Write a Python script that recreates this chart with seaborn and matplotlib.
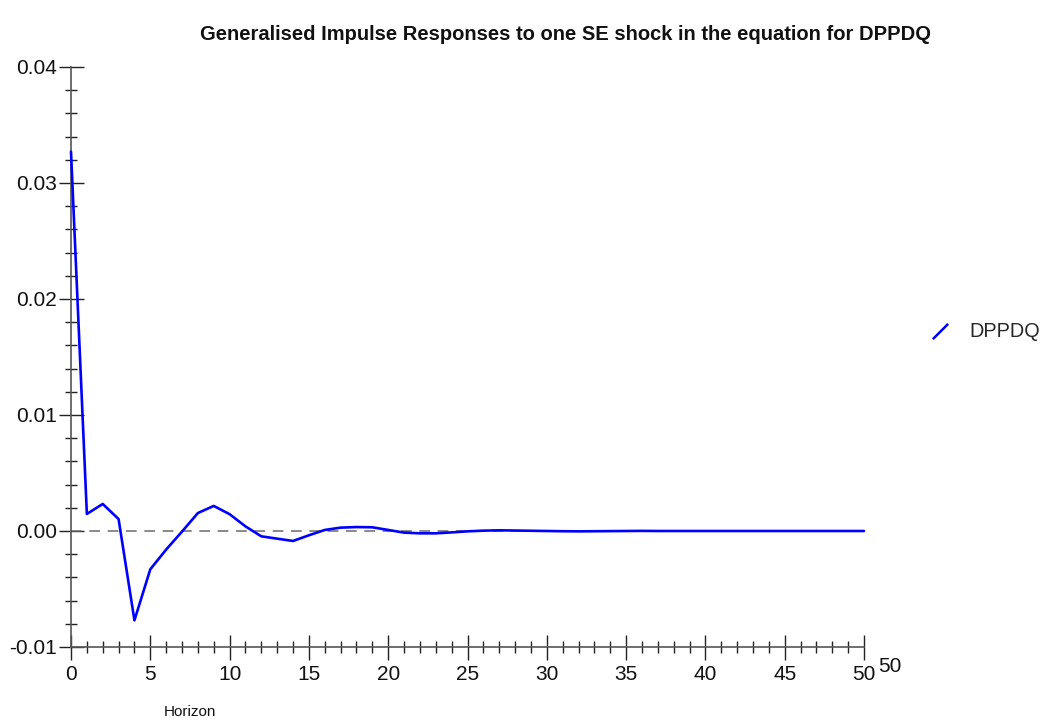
import matplotlib
matplotlib.use("Agg")
import matplotlib.pyplot as plt
import numpy as np
import pandas as pd
import seaborn as sns
from matplotlib.lines import Line2D
from matplotlib.path import Path
from matplotlib.ticker import MultipleLocator, FormatStrFormatter

# Generalised impulse response of DPPDQ, horizons 0..50
horizon = list(range(51))
response = [
    0.0327, 0.00147, 0.00233, 0.00103, -0.0077, -0.0033, -0.0016, -0.00005,
    0.00155, 0.00216, 0.00145, 0.0004, -0.00046, -0.00066, -0.00086, -0.00037,
    0.00009, 0.00029, 0.00034, 0.00032, 0.00009, -0.00014, -0.0002, -0.0002,
    -0.00012, -0.00003, 0.00003, 0.00006, 0.00004, 0.00002, 0.0, -0.00002,
    -0.00003, -0.00002, -0.00001, 0.0, 0.00001, 0.0, 0.0, 0.0, 0.0, 0.0,
    0.0, 0.0, 0.0, 0.0, 0.0, 0.0, 0.0, 0.0, 0.0,
]
series_name = "DPPDQ"
title = "Generalised Impulse Responses to one SE shock in the equation for DPPDQ"
x_label = "Horizon"

df = pd.DataFrame({"Horizon": horizon, "Response": response})

sns.set_theme(style="white")
plt.rcParams["font.family"] = ["Liberation Sans", "DejaVu Sans"]
plt.rcParams["axes.unicode_minus"] = False

fig = plt.figure(figsize=(10.45, 7.27), dpi=100)
ax = fig.add_axes([71 / 1045, 1 - 647 / 727, (864 - 71) / 1045, (647 - 67) / 727])

# zero reference line
ax.axhline(0, color="#6a6a6a", lw=1.1, ls=(0, (7, 5)), zorder=1)

sns.lineplot(data=df, x="Horizon", y="Response", color="#0000ff", lw=1.9,
             ax=ax, legend=False, clip_on=False, zorder=3)

ax.set_xlim(0, 50)
ax.set_ylim(-0.01, 0.04)

for side in ("top", "right"):
    ax.spines[side].set_visible(False)
for side in ("left", "bottom"):
    ax.spines[side].set_color("#555555")
    ax.spines[side].set_linewidth(1.2)

ax.xaxis.set_major_locator(MultipleLocator(5))
ax.xaxis.set_minor_locator(MultipleLocator(1))
ax.yaxis.set_major_locator(MultipleLocator(0.01))
ax.yaxis.set_minor_locator(MultipleLocator(0.002))
ax.yaxis.set_major_formatter(FormatStrFormatter("%.2f"))

tick_size = 15
ax.tick_params(axis="both", which="major", direction="inout", length=18,
               width=1.0, color="#222222", labelsize=tick_size, labelcolor="#111111")
ax.tick_params(axis="both", which="minor", direction="inout", length=9,
               width=1.0, color="#222222")
ax.tick_params(axis="y", which="major", pad=1)
ax.tick_params(axis="x", which="major", pad=4)
ax.tick_params(bottom=True, left=True, which="both")

ax.set_xlabel("")
ax.set_ylabel("")

# horizon end marker to the right of the axis
fig.text(890 / 1045, 1 - 667 / 727, "50", fontsize=tick_size, color="#111111",
         ha="center", va="center")
fig.text(190 / 1045, 1 - 712 / 727, x_label, fontsize=11, color="#111111",
         ha="center", va="center")
fig.text(566 / 1045, 1 - 35 / 727, title, fontsize=14.5, fontweight="bold",
         color="#111111", ha="center", va="center")

# legend with a slanted line as the key
slant = Path([(-1, -1), (1, 1)], [Path.MOVETO, Path.LINETO])
handle = Line2D([], [], color="#0000ff", linestyle="none", marker=slant,
                markersize=11, markeredgewidth=1.8, markeredgecolor="#0000ff")
ax.legend(handles=[handle], labels=[series_name], loc="center left",
          bbox_to_anchor=(930 / 1045, 1 - 332 / 727), bbox_transform=fig.transFigure,
          frameon=False, fontsize=14.3, handlelength=1.0, handletextpad=1.0,
          borderaxespad=0, borderpad=0)

fig.savefig("out.png", dpi=100)
